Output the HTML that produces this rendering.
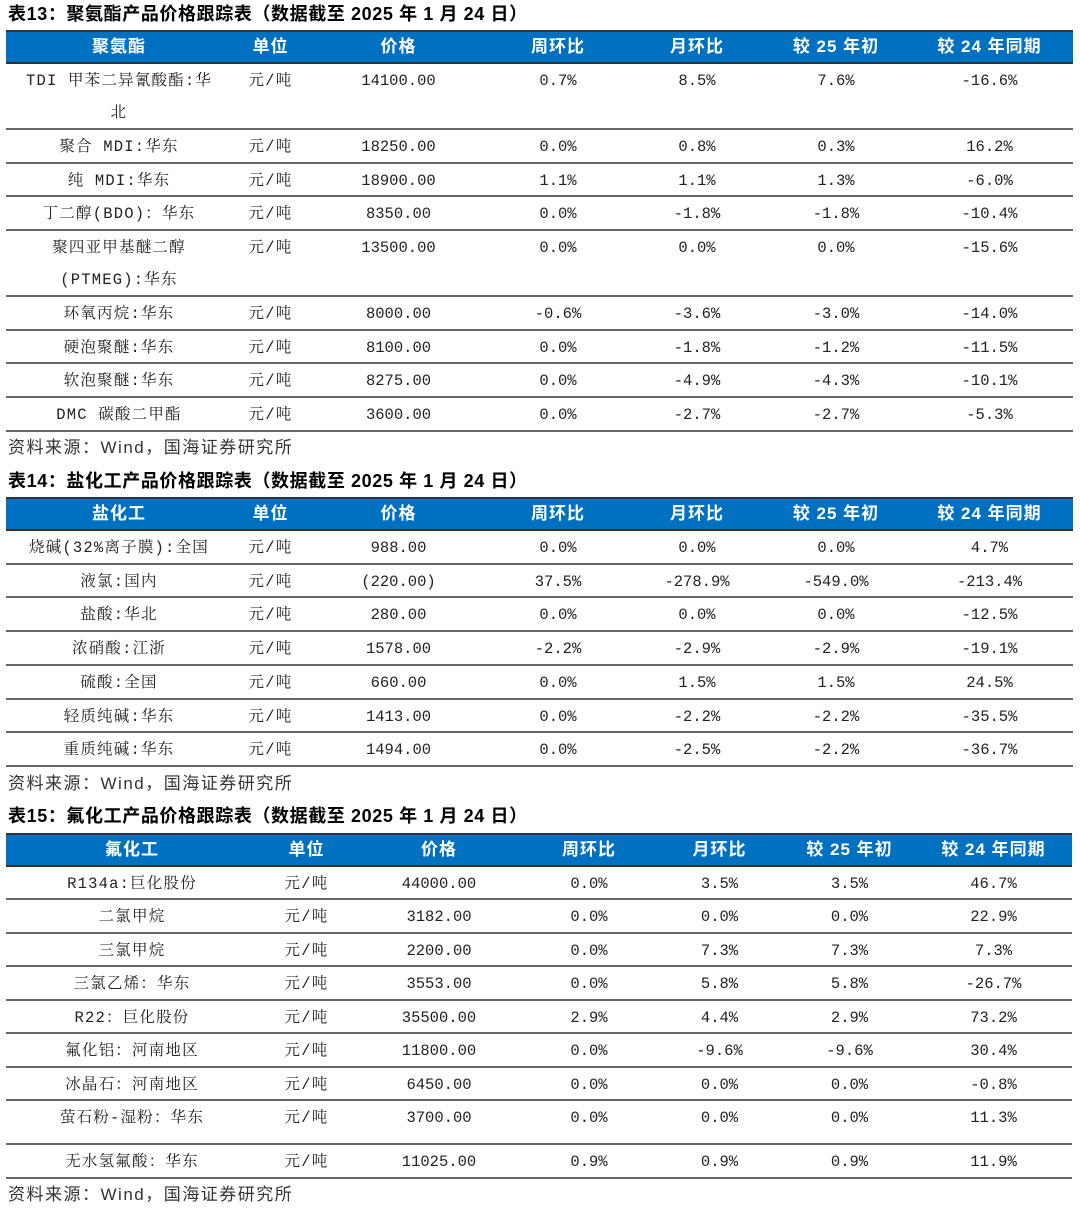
<!DOCTYPE html>
<html><head><meta charset="utf-8">
<style>
*{box-sizing:border-box;margin:0;padding:0}
body{width:1080px;height:1219px;background:#fff;position:relative;overflow:hidden}
.title{position:absolute;left:8px;font-family:"Liberation Sans","Noto Sans CJK SC",sans-serif;font-weight:bold;font-size:18px;letter-spacing:0.6px;line-height:20px;color:#000;white-space:nowrap}
.src{position:absolute;left:8px;font-family:"Liberation Sans","Noto Sans CJK SC",sans-serif;font-size:17px;letter-spacing:1.5px;line-height:20px;color:#333;white-space:nowrap}
.tbl{position:absolute;left:6px}
.hd{display:flex;height:34px;background:#0070c0;border-top:2px solid #333;border-bottom:2px solid #333}
.hd div{text-align:center;color:#fff;font-family:"Liberation Sans","Noto Sans CJK SC",sans-serif;font-weight:bold;font-size:17px;letter-spacing:1px;line-height:30px;white-space:nowrap}
.r{display:flex;border-bottom:2px solid #666}
.r div{text-align:center;font-family:"Liberation Mono","Noto Serif CJK SC",serif;font-size:15.5px;line-height:32px;padding-top:1px;color:#222;white-space:nowrap}
.r div.n,.r div.u{letter-spacing:1.2px}
.t1 .c1{width:226px}.t1 .c2{width:77px}.t1 .c3{width:179px}.t1 .c4{width:140px}.t1 .c5{width:138px}.t1 .c6{width:140px}.t1 .c7{width:167px}
.t3 .c1{width:252px}.t3 .c2{width:97px}.t3 .c3{width:168px}.t3 .c4{width:132px}.t3 .c5{width:129px}.t3 .c6{width:131px}.t3 .c7{width:157px}
</style></head><body>

<div class="title" style="top:4px">表13：聚氨酯产品价格跟踪表（数据截至 2025 年 1 月 24 日）</div>
<div class="tbl t1" style="top:30px">
<div class="hd"><div class="c1">聚氨酯</div><div class="c2">单位</div><div class="c3">价格</div><div class="c4">周环比</div><div class="c5">月环比</div><div class="c6">较 25 年初</div><div class="c7">较 24 年同期</div></div>
<div class="r" style="height:66px"><div class="c1 n">TDI 甲苯二异氰酸酯:华<br>北</div><div class="c2 u">元/吨</div><div class="c3">14100.00</div><div class="c4">0.7%</div><div class="c5">8.5%</div><div class="c6">7.6%</div><div class="c7">-16.6%</div></div>
<div class="r" style="height:34px"><div class="c1 n">聚合 MDI:华东</div><div class="c2 u">元/吨</div><div class="c3">18250.00</div><div class="c4">0.0%</div><div class="c5">0.8%</div><div class="c6">0.3%</div><div class="c7">16.2%</div></div>
<div class="r" style="height:33px"><div class="c1 n">纯 MDI:华东</div><div class="c2 u">元/吨</div><div class="c3">18900.00</div><div class="c4">1.1%</div><div class="c5">1.1%</div><div class="c6">1.3%</div><div class="c7">-6.0%</div></div>
<div class="r" style="height:34px"><div class="c1 n">丁二醇(BDO)：华东</div><div class="c2 u">元/吨</div><div class="c3">8350.00</div><div class="c4">0.0%</div><div class="c5">-1.8%</div><div class="c6">-1.8%</div><div class="c7">-10.4%</div></div>
<div class="r" style="height:66px"><div class="c1 n">聚四亚甲基醚二醇<br>(PTMEG):华东</div><div class="c2 u">元/吨</div><div class="c3">13500.00</div><div class="c4">0.0%</div><div class="c5">0.0%</div><div class="c6">0.0%</div><div class="c7">-15.6%</div></div>
<div class="r" style="height:34px"><div class="c1 n">环氧丙烷:华东</div><div class="c2 u">元/吨</div><div class="c3">8000.00</div><div class="c4">-0.6%</div><div class="c5">-3.6%</div><div class="c6">-3.0%</div><div class="c7">-14.0%</div></div>
<div class="r" style="height:33px"><div class="c1 n">硬泡聚醚:华东</div><div class="c2 u">元/吨</div><div class="c3">8100.00</div><div class="c4">0.0%</div><div class="c5">-1.8%</div><div class="c6">-1.2%</div><div class="c7">-11.5%</div></div>
<div class="r" style="height:34px"><div class="c1 n">软泡聚醚:华东</div><div class="c2 u">元/吨</div><div class="c3">8275.00</div><div class="c4">0.0%</div><div class="c5">-4.9%</div><div class="c6">-4.3%</div><div class="c7">-10.1%</div></div>
<div class="r" style="height:34px"><div class="c1 n">DMC 碳酸二甲酯</div><div class="c2 u">元/吨</div><div class="c3">3600.00</div><div class="c4">0.0%</div><div class="c5">-2.7%</div><div class="c6">-2.7%</div><div class="c7">-5.3%</div></div>
</div>
<div class="src" style="top:438px">资料来源：Wind，国海证券研究所</div>

<div class="title" style="top:471px">表14：盐化工产品价格跟踪表（数据截至 2025 年 1 月 24 日）</div>
<div class="tbl t1" style="top:497px">
<div class="hd"><div class="c1">盐化工</div><div class="c2">单位</div><div class="c3">价格</div><div class="c4">周环比</div><div class="c5">月环比</div><div class="c6">较 25 年初</div><div class="c7">较 24 年同期</div></div>
<div class="r" style="height:34px"><div class="c1 n">烧碱(32%离子膜):全国</div><div class="c2 u">元/吨</div><div class="c3">988.00</div><div class="c4">0.0%</div><div class="c5">0.0%</div><div class="c6">0.0%</div><div class="c7">4.7%</div></div>
<div class="r" style="height:33px"><div class="c1 n">液氯:国内</div><div class="c2 u">元/吨</div><div class="c3">(220.00)</div><div class="c4">37.5%</div><div class="c5">-278.9%</div><div class="c6">-549.0%</div><div class="c7">-213.4%</div></div>
<div class="r" style="height:34px"><div class="c1 n">盐酸:华北</div><div class="c2 u">元/吨</div><div class="c3">280.00</div><div class="c4">0.0%</div><div class="c5">0.0%</div><div class="c6">0.0%</div><div class="c7">-12.5%</div></div>
<div class="r" style="height:34px"><div class="c1 n">浓硝酸:江浙</div><div class="c2 u">元/吨</div><div class="c3">1578.00</div><div class="c4">-2.2%</div><div class="c5">-2.9%</div><div class="c6">-2.9%</div><div class="c7">-19.1%</div></div>
<div class="r" style="height:34px"><div class="c1 n">硫酸:全国</div><div class="c2 u">元/吨</div><div class="c3">660.00</div><div class="c4">0.0%</div><div class="c5">1.5%</div><div class="c6">1.5%</div><div class="c7">24.5%</div></div>
<div class="r" style="height:33px"><div class="c1 n">轻质纯碱:华东</div><div class="c2 u">元/吨</div><div class="c3">1413.00</div><div class="c4">0.0%</div><div class="c5">-2.2%</div><div class="c6">-2.2%</div><div class="c7">-35.5%</div></div>
<div class="r" style="height:34px"><div class="c1 n">重质纯碱:华东</div><div class="c2 u">元/吨</div><div class="c3">1494.00</div><div class="c4">0.0%</div><div class="c5">-2.5%</div><div class="c6">-2.2%</div><div class="c7">-36.7%</div></div>
</div>
<div class="src" style="top:774px">资料来源：Wind，国海证券研究所</div>

<div class="title" style="top:806px">表15：氟化工产品价格跟踪表（数据截至 2025 年 1 月 24 日）</div>
<div class="tbl t3" style="top:833px">
<div class="hd"><div class="c1">氟化工</div><div class="c2">单位</div><div class="c3">价格</div><div class="c4">周环比</div><div class="c5">月环比</div><div class="c6">较 25 年初</div><div class="c7">较 24 年同期</div></div>
<div class="r" style="height:33px"><div class="c1 n">R134a:巨化股份</div><div class="c2 u">元/吨</div><div class="c3">44000.00</div><div class="c4">0.0%</div><div class="c5">3.5%</div><div class="c6">3.5%</div><div class="c7">46.7%</div></div>
<div class="r" style="height:34px"><div class="c1 n">二氯甲烷</div><div class="c2 u">元/吨</div><div class="c3">3182.00</div><div class="c4">0.0%</div><div class="c5">0.0%</div><div class="c6">0.0%</div><div class="c7">22.9%</div></div>
<div class="r" style="height:33px"><div class="c1 n">三氯甲烷</div><div class="c2 u">元/吨</div><div class="c3">2200.00</div><div class="c4">0.0%</div><div class="c5">7.3%</div><div class="c6">7.3%</div><div class="c7">7.3%</div></div>
<div class="r" style="height:34px"><div class="c1 n">三氯乙烯：华东</div><div class="c2 u">元/吨</div><div class="c3">3553.00</div><div class="c4">0.0%</div><div class="c5">5.8%</div><div class="c6">5.8%</div><div class="c7">-26.7%</div></div>
<div class="r" style="height:33px"><div class="c1 n">R22：巨化股份</div><div class="c2 u">元/吨</div><div class="c3">35500.00</div><div class="c4">2.9%</div><div class="c5">4.4%</div><div class="c6">2.9%</div><div class="c7">73.2%</div></div>
<div class="r" style="height:34px"><div class="c1 n">氟化铝：河南地区</div><div class="c2 u">元/吨</div><div class="c3">11800.00</div><div class="c4">0.0%</div><div class="c5">-9.6%</div><div class="c6">-9.6%</div><div class="c7">30.4%</div></div>
<div class="r" style="height:33px"><div class="c1 n">冰晶石：河南地区</div><div class="c2 u">元/吨</div><div class="c3">6450.00</div><div class="c4">0.0%</div><div class="c5">0.0%</div><div class="c6">0.0%</div><div class="c7">-0.8%</div></div>
<div class="r" style="height:44px"><div class="c1 n">萤石粉-湿粉：华东</div><div class="c2 u">元/吨</div><div class="c3">3700.00</div><div class="c4">0.0%</div><div class="c5">0.0%</div><div class="c6">0.0%</div><div class="c7">11.3%</div></div>
<div class="r" style="height:34px"><div class="c1 n">无水氢氟酸：华东</div><div class="c2 u">元/吨</div><div class="c3">11025.00</div><div class="c4">0.9%</div><div class="c5">0.9%</div><div class="c6">0.9%</div><div class="c7">11.9%</div></div>
</div>
<div class="src" style="top:1185px">资料来源：Wind，国海证券研究所</div>

</body></html>
